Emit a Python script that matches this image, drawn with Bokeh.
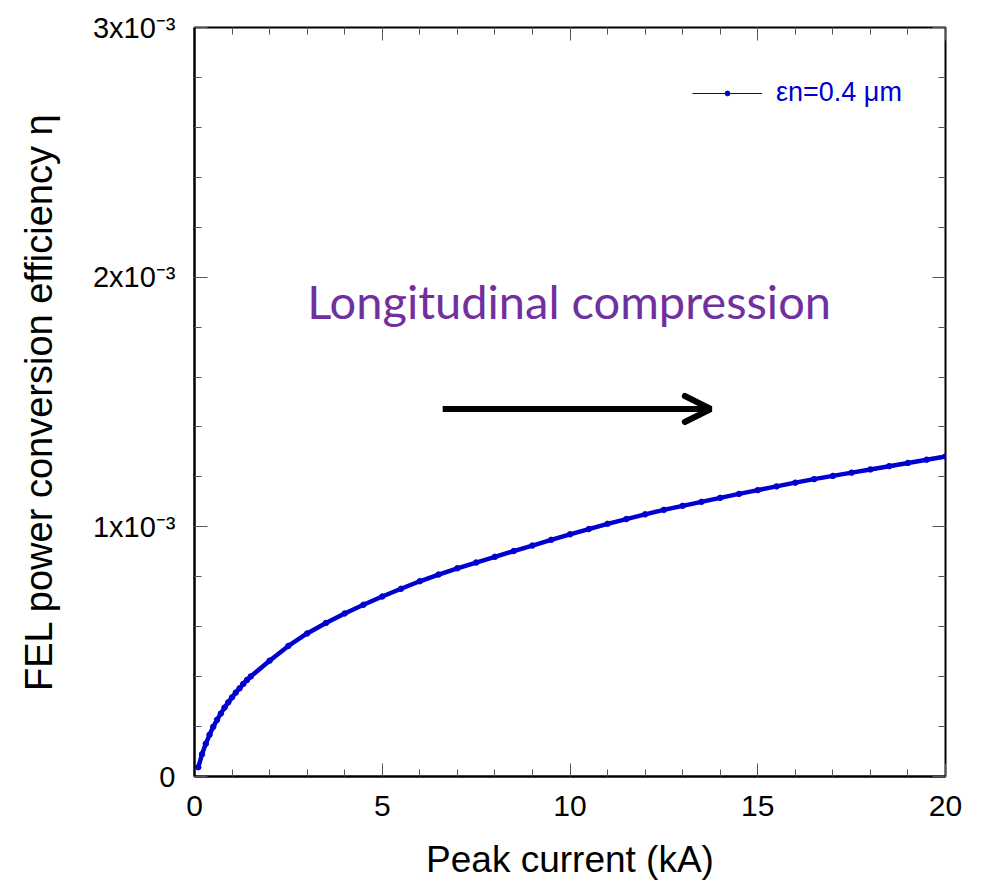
from bokeh.plotting import figure
from bokeh.models import (Range1d, LinearAxis, FixedTicker, Label, Arrow, OpenHead,
                          Legend, LegendItem, ColumnDataSource)
from bokeh.embed import file_html
from bokeh.resources import INLINE

# ---- data ----
current_kA = [0.1, 0.2, 0.3, 0.4, 0.5, 0.6, 0.7, 0.8, 0.9, 1.0,
              1.1, 1.2, 1.3, 1.4, 1.5, 2.0, 2.5, 3.0, 3.5, 4.0,
              4.5, 5.0, 5.5, 6.0, 6.5, 7.0, 7.5, 8.0, 8.5, 9.0,
              9.5, 10.0, 10.5, 11.0, 11.5, 12.0, 12.5, 13.0, 13.5, 14.0,
              14.5, 15.0, 15.5, 16.0, 16.5, 17.0, 17.5, 18.0, 18.5, 19.0,
              19.5, 20.0]
eta_1e3 = [0.037, 0.089, 0.131, 0.167, 0.199, 0.227, 0.252, 0.276, 0.297, 0.317,
           0.336, 0.353, 0.371, 0.387, 0.401, 0.464, 0.523, 0.573, 0.615, 0.653,
           0.688, 0.721, 0.752, 0.782, 0.809, 0.834, 0.857, 0.880, 0.903, 0.925,
           0.948, 0.970, 0.991, 1.012, 1.031, 1.050, 1.068, 1.084, 1.100, 1.116,
           1.132, 1.147, 1.162, 1.177, 1.191, 1.204, 1.217, 1.230, 1.243, 1.256,
           1.269, 1.282]

x_major_ticks = [0, 5, 10, 15, 20]
x_minor_ticks = list(range(0, 21))
y_major_ticks = [0.0, 1e-3, 2e-3, 3e-3]
y_minor_ticks = [i * 0.2e-3 for i in range(16)]
y_tick_labels = ["0", "1x10\u207b\u00b3", "2x10\u207b\u00b3", "3x10\u207b\u00b3"]
series_label = "\u03b5n=0.4 \u03bcm"
annotation_text = "Longitudinal compression"
x_title = "Peak current (kA)"
y_title = "FEL power conversion efficiency \u03b7"

src = ColumnDataSource(dict(x=current_kA, y=[v * 1e-3 for v in eta_1e3]))

BLUE = "#0000d0"
FONT = "Liberation Sans"

W, H = 985, 887
p = figure(width=W, height=H, output_backend="svg", toolbar_location=None,
           x_range=Range1d(0, 20), y_range=Range1d(0, 3e-3),
           min_border_left=194, min_border_right=W - 945, min_border_top=27,
           min_border_bottom=H - 776)
p.xgrid.visible = False
p.ygrid.visible = False
p.outline_line_color = "black"
p.outline_line_width = 2
p.outline_line_alpha = 1
p.background_fill_color = "white"
p.border_fill_color = "white"

xt = FixedTicker(ticks=x_major_ticks, minor_ticks=x_minor_ticks)
yt = FixedTicker(ticks=y_major_ticks, minor_ticks=y_minor_ticks)


def style_axis(ax):
    ax.axis_line_color = "black"
    ax.axis_line_width = 2
    ax.major_tick_in = 13
    ax.major_tick_out = 0
    ax.minor_tick_in = 7
    ax.minor_tick_out = 0
    ax.major_tick_line_color = "#555555"
    ax.minor_tick_line_color = "#555555"
    ax.major_tick_line_width = 1
    ax.minor_tick_line_width = 1
    ax.axis_label_text_font = FONT
    ax.axis_label_text_font_style = "normal"
    ax.axis_label_text_color = "black"
    ax.major_label_text_font = FONT
    ax.major_label_text_color = "black"


xa = p.xaxis[0]
xa.ticker = xt
style_axis(xa)
xa.major_label_text_font_size = "30px"
xa.major_label_standoff = 19
xa.axis_label = x_title
xa.axis_label_text_font_size = "37px"
xa.axis_label_standoff = 20

ya = p.yaxis[0]
ya.ticker = yt
style_axis(ya)
ya.major_label_text_font_size = "29px"
ya.major_label_standoff = 19
ya.major_label_overrides = {v: t for v, t in zip(y_major_ticks, y_tick_labels)}
ya.axis_label = y_title
ya.axis_label_text_font_size = "38px"
ya.axis_label_standoff = 30

for loc, tk in (("above", xt), ("right", yt)):
    ax = LinearAxis(ticker=tk)
    style_axis(ax)
    ax.axis_line_color = None
    ax.major_label_text_font_size = "0px"
    ax.major_label_standoff = 0
    p.add_layout(ax, loc)

# series
p.line("x", "y", source=src, line_color=BLUE, line_width=4.5)
p.scatter("x", "y", source=src, size=5.5, fill_color=BLUE, line_color=BLUE)

# legend (thin line with a dot); placeholder sources hold no visible mark
leg_src = ColumnDataSource(dict(x=[float("nan")], y=[float("nan")]))
dl = p.line("x", "y", source=leg_src, line_color=BLUE, line_width=1)
ds = p.scatter("x", "y", source=leg_src, size=5, fill_color=BLUE, line_color=BLUE)
legend = Legend(items=[LegendItem(label=series_label, renderers=[dl, ds])],
                location=(498, 668), margin=0, padding=0,
                glyph_width=70, glyph_height=12, label_height=12,
                label_standoff=14, border_line_alpha=0, background_fill_alpha=0,
                label_text_color=BLUE, label_text_font=FONT,
                label_text_font_size="27px")
p.add_layout(legend)

# annotation text and arrow
p.add_layout(Label(x=3.0, y=1.904e-3, text=annotation_text, text_baseline="middle",
                   text_font="Lato", text_font_size="47px", text_color="#7030A0"))
p.add_layout(Arrow(end=OpenHead(size=26, line_width=6, line_color="black",
                                line_cap="round"),
                   x_start=6.61, y_start=1.472e-3, x_end=13.75, y_end=1.472e-3,
                   line_width=6, line_color="black"))

open("out.html", "w").write(file_html(p, INLINE))
